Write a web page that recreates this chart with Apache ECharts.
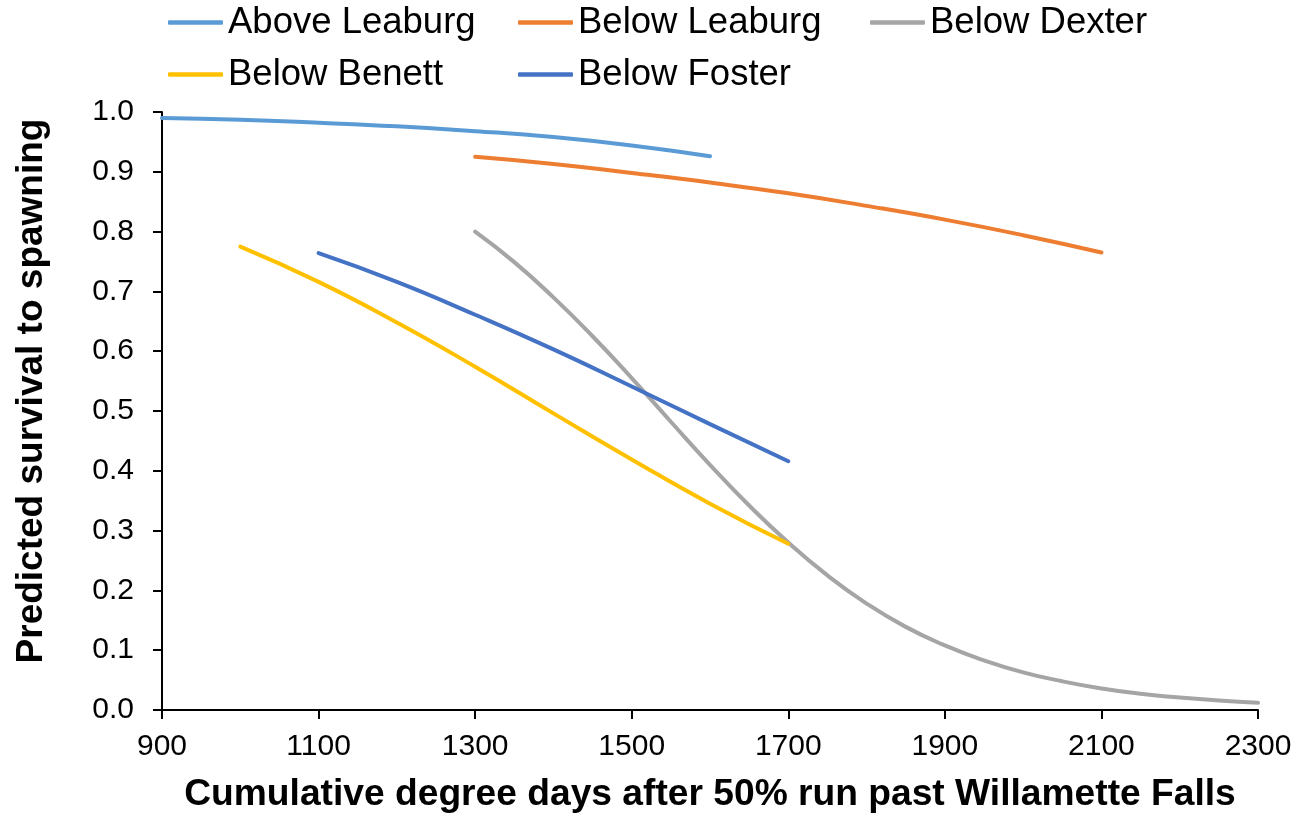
<!DOCTYPE html>
<html>
<head>
<meta charset="utf-8">
<title>Predicted survival to spawning</title>
<script src="https://cdn.jsdelivr.net/npm/echarts@6/dist/echarts.min.js"></script>
<style>
  html, body { margin: 0; padding: 0; background: #ffffff; }
  #chart { width: 1295px; height: 814px; }
</style>
</head>
<body>
<div id="chart"></div>
<script>
// Cumulative degree days (x) and predicted survival (y) for each reach
const aboveLeaburgX = [900, 1000, 1100, 1200, 1300, 1400, 1500, 1600];
const aboveLeaburgY = [0.990, 0.987, 0.982, 0.976, 0.968, 0.958, 0.944, 0.926];

const belowLeaburgX = [1300, 1400, 1500, 1600, 1700, 1800, 1900, 2000, 2100];
const belowLeaburgY = [0.925, 0.913, 0.898, 0.882, 0.864, 0.843, 0.820, 0.794, 0.765];

const belowDexterX = [1300, 1350, 1400, 1450, 1500, 1550, 1600, 1650, 1700, 1750, 1800,
                      1850, 1900, 1950, 2000, 2050, 2100, 2150, 2200, 2250, 2300];
const belowDexterY = [0.800, 0.749, 0.690, 0.625, 0.555, 0.482, 0.410, 0.342, 0.280, 0.225, 0.178,
                      0.139, 0.108, 0.083, 0.063, 0.048, 0.036, 0.027, 0.021, 0.016, 0.012];

const belowBenettX = [1000, 1100, 1200, 1300, 1400, 1500, 1600, 1700];
const belowBenettY = [0.775, 0.716, 0.648, 0.574, 0.496, 0.419, 0.345, 0.278];

const belowFosterX = [1100, 1200, 1300, 1400, 1500, 1600, 1700];
const belowFosterY = [0.764, 0.716, 0.661, 0.603, 0.541, 0.478, 0.416];

const xTickLabels = [900, 1100, 1300, 1500, 1700, 1900, 2100, 2300];

const seriesNames = ['Above Leaburg', 'Below Leaburg', 'Below Dexter', 'Below Benett', 'Below Foster'];
const seriesColors = ['#5B9BD5', '#ED7D31', '#A5A5A5', '#FFC000', '#4472C4'];

function pairs(xs, ys) {
  return xs.map((x, i) => [x, ys[i]]);
}

const seriesData = [
  pairs(aboveLeaburgX, aboveLeaburgY),
  pairs(belowLeaburgX, belowLeaburgY),
  pairs(belowDexterX, belowDexterY),
  pairs(belowBenettX, belowBenettY),
  pairs(belowFosterX, belowFosterY)
];

const FONT = '"Liberation Sans", Arial, sans-serif';

// Legend laid out as fixed columns over two rows
const legendSpots = [
  { left: 168, top: 4 },
  { left: 518, top: 4 },
  { left: 870, top: 4 },
  { left: 168, top: 56 },
  { left: 518, top: 56 }
];

const legends = seriesNames.map((name, i) => ({
  data: [name],
  left: legendSpots[i].left,
  top: legendSpots[i].top,
  padding: 0,
  icon: 'roundRect',
  itemWidth: 55,
  itemHeight: 4.5,
  itemStyle: { borderWidth: 0 },
  textStyle: { fontFamily: FONT, fontSize: 36.5, color: '#000' }
}));

const chart = echarts.init(document.getElementById('chart'), null, { renderer: 'canvas' });

chart.setOption({
  animation: false,
  backgroundColor: '#ffffff',
  legend: legends,
  grid: {
    left: 162,
    right: 37,
    top: 112,
    bottom: 104,
    containLabel: false,
    outerBoundsMode: 'none'
  },
  xAxis: {
    type: 'value',
    min: 900,
    max: 2300,
    interval: 100,
    name: 'Cumulative degree days after 50% run past Willamette Falls',
    nameLocation: 'middle',
    nameGap: 66,
    nameTextStyle: { fontFamily: FONT, fontSize: 37.2, fontWeight: 'bold', color: '#000' },
    axisLine: { show: true, lineStyle: { color: '#000', width: 2 } },
    axisTick: { show: true, inside: false, length: 9, customValues: xTickLabels,
                lineStyle: { color: '#000', width: 2 } },
    axisLabel: { customValues: xTickLabels, margin: 22,
                 fontFamily: FONT, fontSize: 30, color: '#000',
                 formatter: v => String(v) },
    splitLine: { show: false }
  },
  yAxis: {
    type: 'value',
    min: 0,
    max: 1,
    interval: 0.1,
    name: 'Predicted survival to spawning',
    nameLocation: 'middle',
    nameGap: 112,
    nameTextStyle: { fontFamily: FONT, fontSize: 37, fontWeight: 'bold', color: '#000',
                     padding: [0, 0, 0, 40] },
    axisLine: { show: true, lineStyle: { color: '#000', width: 2 } },
    axisTick: { show: true, inside: false, length: 9, lineStyle: { color: '#000', width: 2 } },
    axisLabel: { margin: 28, fontFamily: FONT, fontSize: 30, color: '#000',
                 formatter: v => v.toFixed(1) },
    splitLine: { show: false }
  },
  series: seriesNames.map((name, i) => ({
    name: name,
    type: 'line',
    data: seriesData[i],
    smooth: true,
    symbol: 'none',
    showSymbol: false,
    color: seriesColors[i],
    lineStyle: { color: seriesColors[i], width: 4, cap: 'round' }
  }))
});
</script>
</body>
</html>
